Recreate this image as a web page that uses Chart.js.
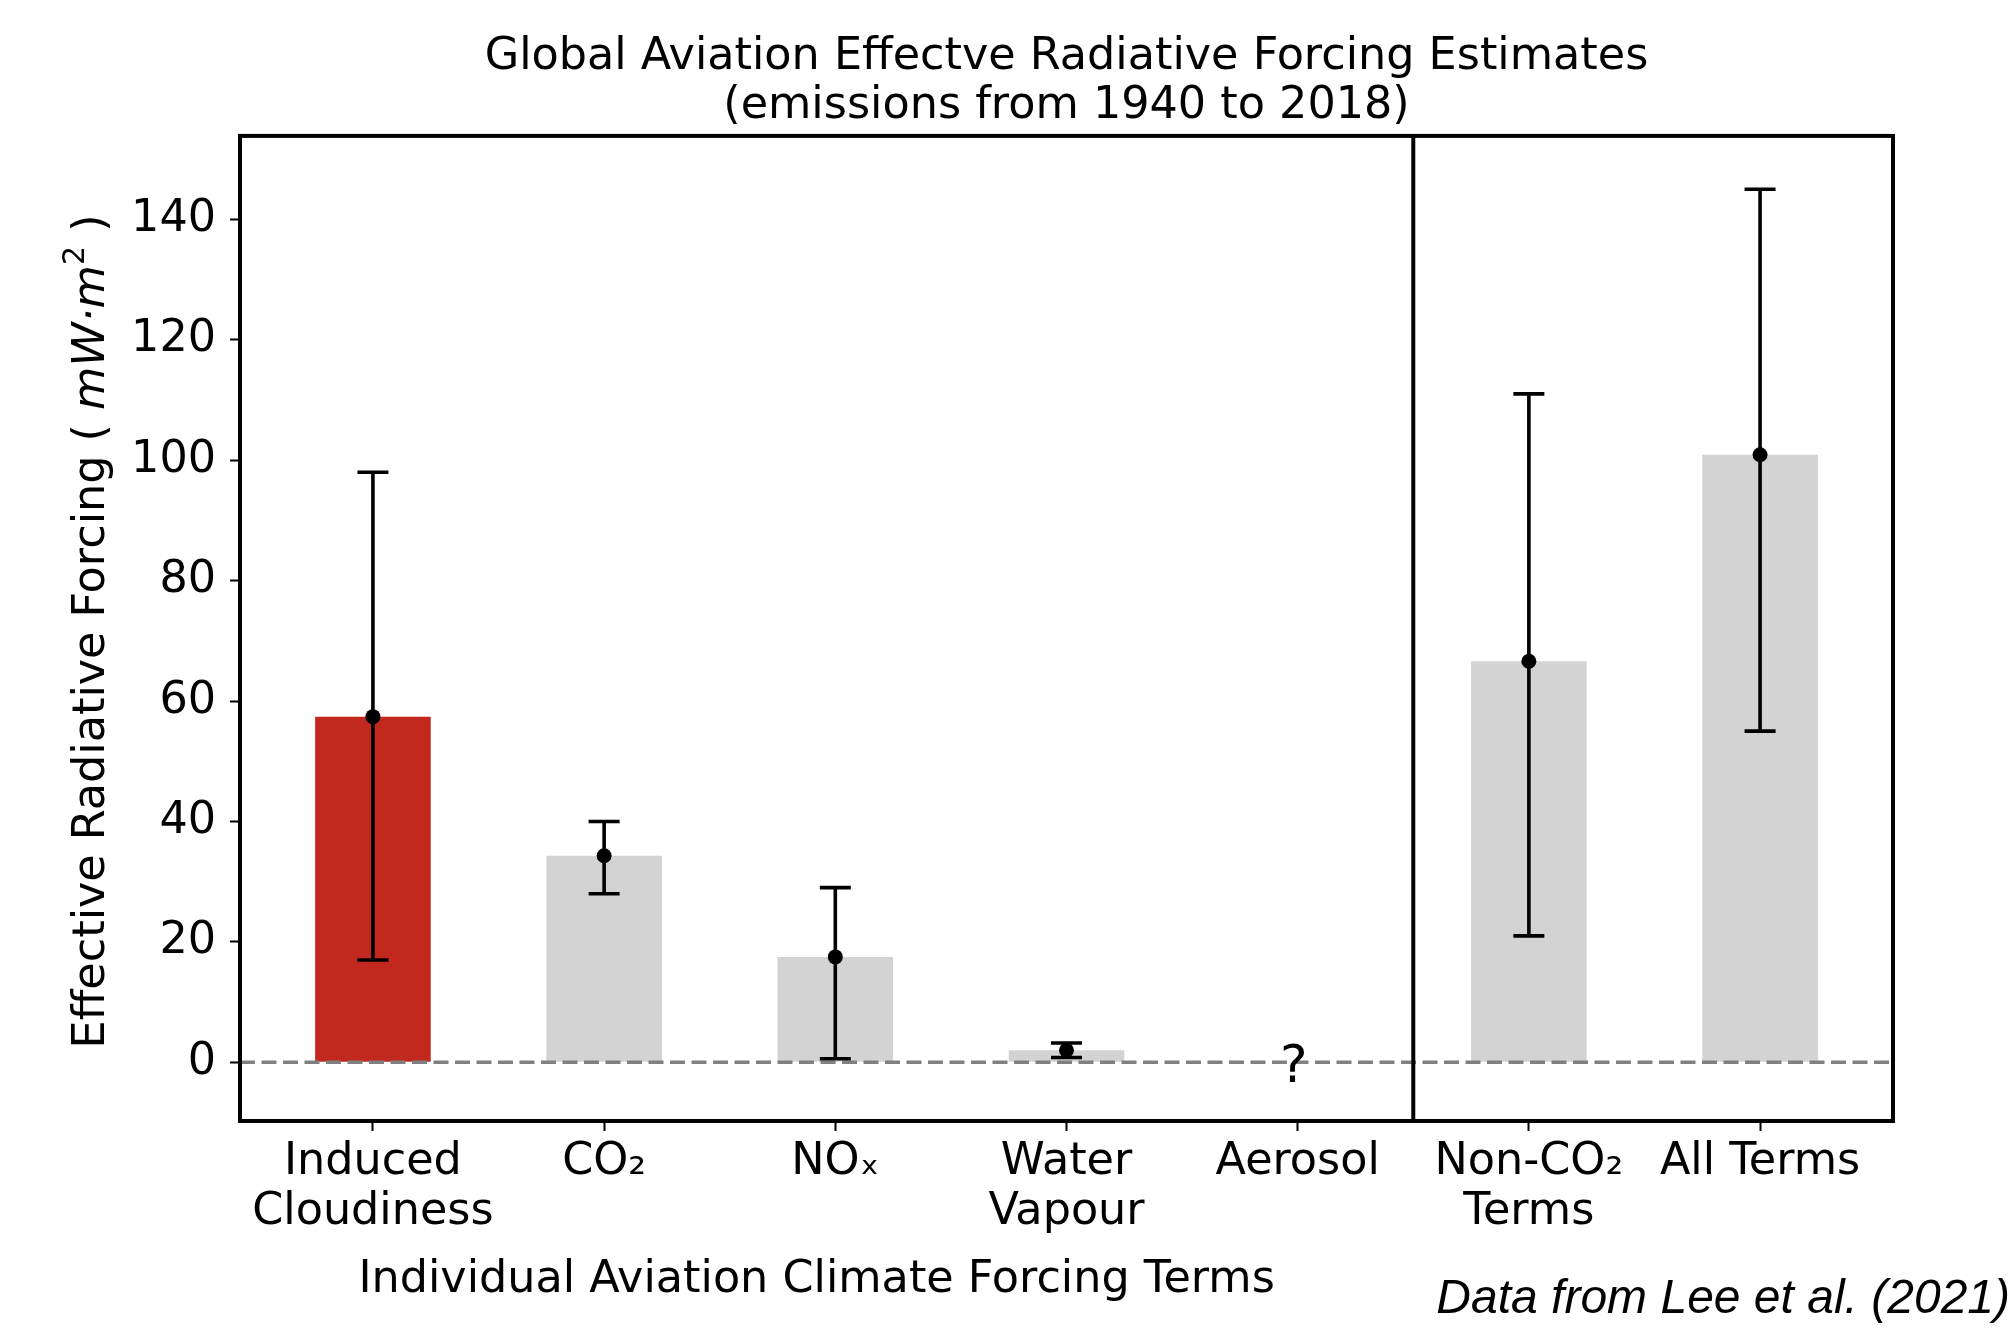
<!DOCTYPE html>
<html><head><meta charset="utf-8">
<script src="https://cdn.jsdelivr.net/npm/chart.js@4/dist/chart.umd.min.js"></script>
<style>html,body{margin:0;padding:0;background:#fff}</style>
</head><body>
<canvas id="c" width="2013" height="1332"></canvas>
<script>
// ---- data ----
const categories = [["Induced", "Cloudiness"], "CO₂", "NOₓ", ["Water", "Vapour"], "Aerosol", ["Non-CO₂", "Terms"], "All Terms"];
const bestEstimate = [57.4, 34.3, 17.5, 2.0, null, 66.6, 100.9];
const lowerBound = [17, 28, 0.6, 0.8, null, 21, 55];
const upperBound = [98, 40, 29, 3.2, null, 111, 145];
const yTicks = [0, 20, 40, 60, 80, 100, 120, 140];
const unknownIndex = 4;
const unknownLabel = "?";
const dividerAt = 4.5;
const titleLines = ["Global Aviation Effectve Radiative Forcing Estimates", "(emissions from 1940 to 2018)"];
const xTitle = "Individual Aviation Climate Forcing Terms";
const yTitleParts = ["Effective Radiative Forcing ( ", "mW·m", "2", " )"];
const sourceNote = "Data from Lee et al. (2021)";

// ---- style ----
const FONT = '"DejaVu Sans", sans-serif';
const FS = 44.5;
const RED = '#C1291F', GREY = '#D3D3D3';
Chart.defaults.font.family = FONT;
Chart.defaults.color = '#000';

const decor = {
  id: 'decor',
  afterDatasetDraw(chart, args) {
    if (args.index !== 0) return;
    const {ctx, chartArea: a, scales: {x, y}} = chart;
    ctx.save();
    const y0 = y.getPixelForValue(0);
    ctx.strokeStyle = '#808080'; ctx.lineWidth = 3.5; ctx.setLineDash([15, 6.5]);
    ctx.beginPath(); ctx.moveTo(a.left, y0); ctx.lineTo(a.right, y0); ctx.stroke();
    ctx.setLineDash([]);
    ctx.strokeStyle = '#000'; ctx.lineWidth = 3.6; ctx.lineCap = 'butt';
    bestEstimate.forEach((v, i) => {
      if (v == null) return;
      const px = x.getPixelForValue(i);
      const lo = y.getPixelForValue(lowerBound[i]), hi = y.getPixelForValue(upperBound[i]);
      ctx.beginPath();
      ctx.moveTo(px, lo); ctx.lineTo(px, hi);
      ctx.moveTo(px - 15.5, lo); ctx.lineTo(px + 15.5, lo);
      ctx.moveTo(px - 15.5, hi); ctx.lineTo(px + 15.5, hi);
      ctx.stroke();
    });
    ctx.fillStyle = '#000';
    ctx.font = '52px ' + FONT; ctx.textAlign = 'center'; ctx.textBaseline = 'middle';
    ctx.fillText(unknownLabel, x.getPixelForValue(unknownIndex) - 4, y.getPixelForValue(0) + 6);
    ctx.restore();
  },
  afterDraw(chart) {
    const {ctx, chartArea: a, scales: {x}} = chart;
    ctx.save();
    ctx.strokeStyle = '#000'; ctx.lineWidth = 4;
    ctx.strokeRect(a.left, a.top, a.right - a.left, a.bottom - a.top);
    const xd = x.getPixelForValue(dividerAt);
    ctx.beginPath(); ctx.moveTo(xd, a.top); ctx.lineTo(xd, a.bottom); ctx.stroke();
    // x title centred over the individual terms panel
    ctx.fillStyle = '#000';
    ctx.font = FS + 'px ' + FONT; ctx.textAlign = 'center'; ctx.textBaseline = 'middle';
    ctx.fillText(xTitle, (a.left + xd) / 2 - 10, 1280);
    // source note
    ctx.font = 'italic 48px "Liberation Sans", Arial, sans-serif'; ctx.textAlign = 'right';
    ctx.fillText(sourceNote, 2010, 1300);
    // y title with math part
    const fonts = [FS + 'px ' + FONT, 'italic ' + FS + 'px ' + FONT, '30px ' + FONT, FS + 'px ' + FONT];
    const dys = [0, 0, -16, 0];
    let total = 0; const widths = [];
    yTitleParts.forEach((t, i) => { ctx.font = fonts[i]; const w = ctx.measureText(t).width; widths.push(w); total += w; });
    ctx.translate(92, (a.top + a.bottom) / 2 + 3);
    ctx.rotate(-Math.PI / 2);
    ctx.textAlign = 'left'; ctx.textBaseline = 'middle';
    let cx = -total / 2;
    yTitleParts.forEach((t, i) => { ctx.font = fonts[i]; ctx.fillText(t, cx, dys[i]); cx += widths[i]; });
    ctx.restore();
  }
};

new Chart(document.getElementById('c'), {
  type: 'bar',
  data: {
    datasets: [
      {
        type: 'bar',
        data: categories.map((_, i) => ({x: i, y: bestEstimate[i]})),
        backgroundColor: categories.map((_, i) => i === 0 ? RED : GREY),
        borderWidth: 0,
        barPercentage: 0.5,
        categoryPercentage: 1,
        order: 2
      },
      {
        type: 'scatter',
        data: categories.map((_, i) => ({x: i, y: bestEstimate[i]})),
        pointRadius: 7.5,
        pointBackgroundColor: '#000',
        pointBorderWidth: 0,
        order: 1
      }
    ]
  },
  options: {
    responsive: false,
    animation: false,
    devicePixelRatio: 1,
    layout: {padding: {left: 0, right: 120, top: 0, bottom: 0}},
    plugins: {
      legend: {display: false},
      tooltip: {enabled: false},
      title: {
        display: true,
        fullSize: false,
        text: titleLines,
        font: {size: FS, weight: 'normal', lineHeight: 1.1},
        color: '#000',
        padding: {top: 33, bottom: 5}
      }
    },
    scales: {
      x: {
        type: 'linear',
        offset: false,
        min: -0.575,
        max: 6.575,
        afterBuildTicks: s => { s.ticks = categories.map((_, i) => ({value: i})); },
        afterFit: s => { s.height = 211; },
        ticks: {
          callback: (v) => categories[v],
          font: {size: FS, lineHeight: 1.11},
          padding: 7,
          maxRotation: 0,
          autoSkip: false
        },
        grid: {display: true, offset: false, drawOnChartArea: false, drawTicks: true, tickLength: 10, tickColor: '#000', tickWidth: 2},
        border: {display: false}
      },
      y: {
        type: 'linear',
        min: -9.75,
        max: 153.85,
        afterBuildTicks: s => { s.ticks = yTicks.map(v => ({value: v})); },
        afterFit: s => { s.width = 240; },
        ticks: {font: {size: FS}, padding: 14},
        grid: {display: true, drawOnChartArea: false, drawTicks: true, tickLength: 10, tickColor: '#000', tickWidth: 2},
        border: {display: false}
      }
    }
  },
  plugins: [decor]
});
</script>
</body></html>
